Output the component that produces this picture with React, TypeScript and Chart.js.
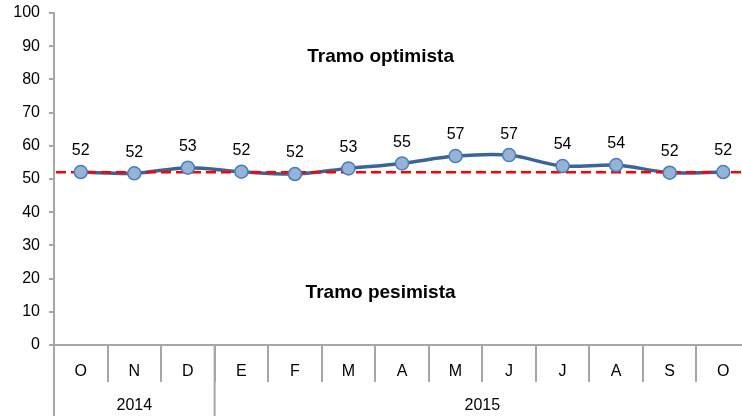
import React, { useEffect, useRef } from "react";
import { Chart, registerables } from "chart.js";

Chart.register(...registerables);

const categories = ["O", "N", "D", "E", "F", "M", "A", "M", "J", "J", "A", "S", "O"];
const values = [52.1, 51.7, 53.4, 52.2, 51.5, 53.2, 54.7, 56.9, 57.2, 53.9, 54.2, 51.9, 52.1];
const valueLabels = ["52", "52", "53", "52", "52", "53", "55", "57", "57", "54", "54", "52", "52"];
const yearLabels = ["2014", "2015"];
const yearStarts = [0, 3];
const yearEnds = [2, 12];
const threshold = 52;
const zoneLabels = ["Tramo optimista", "Tramo pesimista"];
const zoneX = [5.6, 5.6];
const zoneY = [86.8, 15.8];

const FONT = "'Liberation Sans', Arial, sans-serif";
const GRID = "#a6a6a6";

const overlay = {
  id: "overlay",
  afterDatasetsDraw(chart: any) {
    const ctx = chart.ctx;
    const xs = chart.scales.x;
    const ys = chart.scales.y;
    const area = chart.chartArea;
    ctx.save();
    // threshold dashed line
    const ty = ys.getPixelForValue(threshold);
    ctx.strokeStyle = "#ff0000";
    ctx.lineWidth = 2.5;
    ctx.setLineDash([10, 5]);
    ctx.beginPath();
    ctx.moveTo(area.left + 2, ty);
    ctx.lineTo(area.right, ty);
    ctx.stroke();
    ctx.setLineDash([]);
    // redraw points above the dashed line
    const meta = chart.getDatasetMeta(0);
    meta.data.forEach((pt: any) => {
      ctx.beginPath();
      ctx.arc(pt.x, pt.y, 6.5, 0, Math.PI * 2);
      ctx.fillStyle = "#95b3d7";
      ctx.fill();
      ctx.lineWidth = 1.5;
      ctx.strokeStyle = "#4a7ebb";
      ctx.stroke();
    });
    // data labels
    ctx.fillStyle = "#000";
    ctx.font = `16px ${FONT}`;
    ctx.textAlign = "center";
    ctx.textBaseline = "middle";
    meta.data.forEach((pt: any, i: number) => {
      ctx.fillText(valueLabels[i], pt.x, pt.y - 21);
    });
    // zone labels
    ctx.font = `bold 19px ${FONT}`;
    zoneLabels.forEach((t, i) => {
      ctx.fillText(t, xs.getPixelForValue(zoneX[i]), ys.getPixelForValue(zoneY[i]));
    });
    // year row
    const bottom = chart.height;
    const axisTop = area.bottom;
    ctx.strokeStyle = GRID;
    ctx.lineWidth = 2;
    ctx.beginPath();
    ctx.moveTo(area.left, axisTop);
    ctx.lineTo(area.left, bottom);
    ctx.stroke();
    const half = (xs.getPixelForValue(1) - xs.getPixelForValue(0)) / 2;
    ctx.font = `16px ${FONT}`;
    yearLabels.forEach((lab, i) => {
      const x0 = xs.getPixelForValue(yearStarts[i]) - half;
      const x1 = xs.getPixelForValue(yearEnds[i]) + half;
      if (i > 0) {
        ctx.beginPath();
        ctx.moveTo(x0, axisTop);
        ctx.lineTo(x0, bottom);
        ctx.stroke();
      }
      ctx.fillText(lab, (x0 + x1) / 2, 406);
    });
    ctx.restore();
  },
};

export default function App() {
  const ref = useRef<HTMLCanvasElement>(null);
  useEffect(() => {
    if (!ref.current) return;
    const chart = new Chart(ref.current, {
      type: "line",
      data: {
        labels: categories,
        datasets: [
          {
            data: values,
            borderColor: "#3b6597",
            borderWidth: 3.5,
            tension: 0.3,
            pointRadius: 0,
            pointHoverRadius: 0,
          },
        ],
      },
      options: {
        responsive: false,
        animation: false,
        events: [],
        layout: { padding: { top: 13, left: 0, right: 0, bottom: 0 } },
        plugins: { legend: { display: false }, tooltip: { enabled: false } },
        scales: {
          x: {
            offset: true,
            afterFit: (s: any) => {
              s.height = 71;
              s.paddingLeft = 0;
              s.paddingRight = 0;
            },
            border: { color: GRID, width: 2 },
            grid: {
              offset: true,
              drawOnChartArea: false,
              drawTicks: true,
              tickLength: 37,
              color: GRID,
              lineWidth: 2,
            },
            ticks: {
              padding: -20,
              color: "#000",
              font: { family: FONT, size: 16 },
              maxRotation: 0,
              autoSkip: false,
            },
          },
          y: {
            min: 0,
            max: 100,
            afterFit: (s: any) => {
              s.width = 54;
              s.paddingTop = 0;
              s.paddingBottom = 0;
            },
            border: { color: GRID, width: 2 },
            grid: {
              drawOnChartArea: false,
              drawTicks: true,
              tickLength: 5,
              color: GRID,
              lineWidth: 2,
            },
            ticks: {
              stepSize: 10,
              padding: 9,
              color: "#000",
              font: { family: FONT, size: 16 },
            },
          },
        },
      },
      plugins: [overlay],
    });
    return () => chart.destroy();
  }, []);
  return (
    <div style={{ position: "fixed", left: 0, top: 0, width: 742, height: 416, overflow: "hidden", background: "#fff" }}>
      <canvas ref={ref} width={750} height={416} style={{ width: 750, height: 416, display: "block" }} />
    </div>
  );
}
